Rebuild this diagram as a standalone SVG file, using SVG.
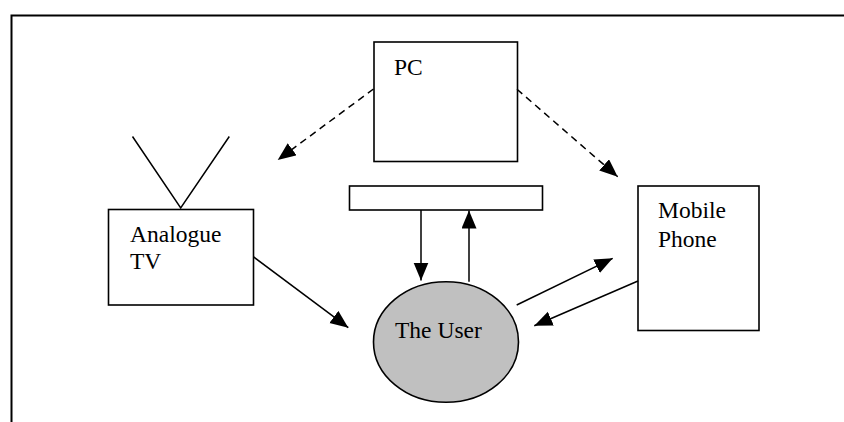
<svg xmlns="http://www.w3.org/2000/svg" width="844" height="422" viewBox="0 0 844 422">
<style>
.box{fill:#fff;stroke:#000;stroke-width:1.6}
.lbl{font-family:"Liberation Serif","Times New Roman",serif;font-size:23.5px;fill:#000}
.ln{stroke:#000;stroke-width:1.5;fill:none}
.dash{stroke-dasharray:7,5}
</style>
<defs>
<marker id="ah" markerUnits="userSpaceOnUse" markerWidth="20" markerHeight="16" refX="18" refY="7.5" orient="auto">
<path d="M0,0 L18,7.5 L0,15 z" fill="#000"/>
</marker>
</defs>
<rect width="844" height="422" fill="#fff"/>
<g id="frame">
<path d="M11.5,422 V15.5 H844" fill="none" stroke="#000" stroke-width="2"/>
</g>
<g id="pc">
<rect class="box" x="374" y="42" width="143.5" height="119.5"/>
<text class="lbl" x="394" y="75">PC</text>
</g>
<g id="keyboard">
<rect class="box" x="349.5" y="186" width="193" height="24"/>
</g>
<g id="tv">
<path class="ln" d="M132.5,136.5 L180.7,208 L229.3,136.5"/>
<rect class="box" x="108.5" y="209.5" width="145" height="95.5"/>
<text class="lbl" x="130" y="241.7">Analogue</text>
<text class="lbl" x="130" y="269.3">TV</text>
</g>
<g id="mobile">
<rect class="box" x="638" y="186" width="121" height="144.5"/>
<text class="lbl" x="658" y="218.3">Mobile</text>
<text class="lbl" x="658" y="246.5">Phone</text>
</g>
<g id="user">
<ellipse cx="446" cy="342" rx="72.5" ry="60.3" fill="#c0c0c0" stroke="#000" stroke-width="1.6"/>
<text class="lbl" x="395" y="337.5">The User</text>
</g>
<g id="connectors">
<line class="ln dash" x1="373.5" y1="89" x2="277.7" y2="160" marker-end="url(#ah)"/>
<line class="ln dash" x1="517" y1="89.3" x2="617.7" y2="176.7" marker-end="url(#ah)"/>
<line class="ln" x1="421" y1="210" x2="421" y2="280.5" marker-end="url(#ah)"/>
<line class="ln" x1="469" y1="281.7" x2="469" y2="210.5" marker-end="url(#ah)"/>
<line class="ln" x1="253.3" y1="256.7" x2="348.3" y2="327.7" marker-end="url(#ah)"/>
<line class="ln" x1="516.7" y1="305" x2="612.7" y2="258.3" marker-end="url(#ah)"/>
<line class="ln" x1="638" y1="281" x2="534.3" y2="325.7" marker-end="url(#ah)"/>
</g>
</svg>
